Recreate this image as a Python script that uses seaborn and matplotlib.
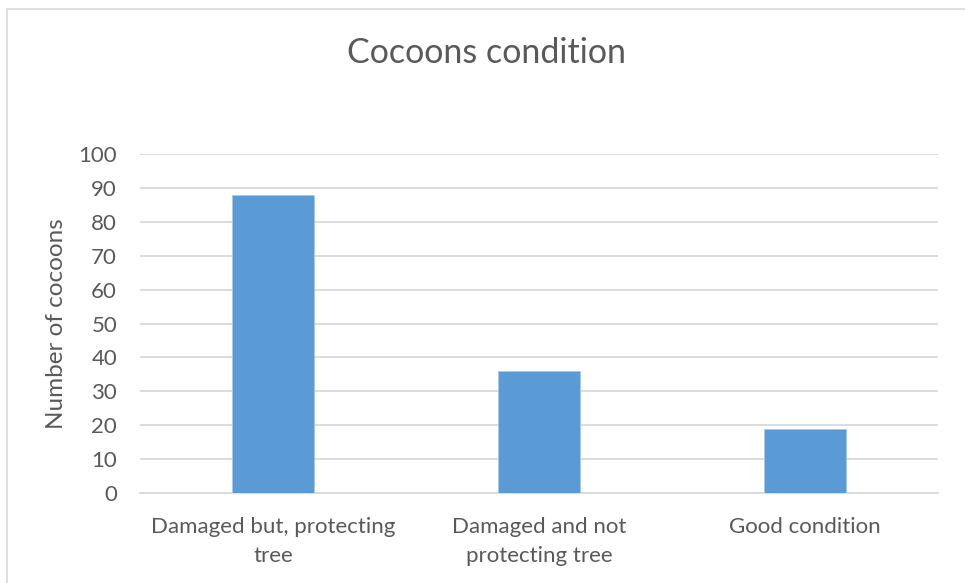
import matplotlib
matplotlib.use("Agg")
import matplotlib.pyplot as plt
import seaborn as sns
import pandas as pd
from matplotlib.patches import Rectangle

categories = ["Damaged but, protecting\ntree", "Damaged and not\nprotecting tree", "Good condition"]
counts = [88, 36, 19]
y_ticks = [0, 10, 20, 30, 40, 50, 60, 70, 80, 90, 100]

title = "Cocoons condition"
y_label = "Number of cocoons"

sns.set_theme(style="white")
plt.rcParams["font.family"] = ["Lato", "DejaVu Sans"]

text_color = "#595959"
grid_color = "#d9d9d9"
bar_color = "#5b9bd5"

W, H = 965, 583
fig = plt.figure(figsize=(W / 100, H / 100), dpi=100)
fig.patch.set_facecolor("white")

# thin chart-area frame (top and left edges visible)
fig.patches.append(Rectangle((7 / W, -0.1), 1.2, (H - 9.5) / H + 0.1,
                             transform=fig.transFigure, fill=False,
                             edgecolor=grid_color, linewidth=1.2))

ax = fig.add_axes([140 / W, (H - 493) / H, (938 - 140) / W, (493 - 154) / H])

df = pd.DataFrame({"condition": categories, "count": counts})
sns.barplot(data=df, x="condition", y="count", ax=ax, color=bar_color,
            width=0.31, saturation=1, edgecolor="#a9c8ea", linewidth=0.6, zorder=3)

ax.set_xlim(-0.5, 2.5)
ax.set_ylim(0, 100)
ax.set_yticks(y_ticks)
ax.yaxis.grid(True, color=grid_color, linewidth=1.3, zorder=0)
ax.set_axisbelow(True)
for side in ["top", "right", "left"]:
    ax.spines[side].set_visible(False)
ax.spines["bottom"].set_color(grid_color)
ax.spines["bottom"].set_linewidth(1.3)

ax.tick_params(axis="y", length=0, pad=16.5, labelsize=16, labelcolor=text_color)
ax.tick_params(axis="x", length=0, pad=17, labelsize=16, labelcolor=text_color)
for lbl in ax.get_xticklabels():
    lbl.set_linespacing(1.6)

ax.set_xlabel("")
ax.set_ylabel(y_label, fontsize=17.5, color=text_color)
ax.yaxis.set_label_coords(-(140 - 67) / (938 - 140), 0.5)

fig.text(486.5 / W, (H - 53) / H, title, ha="center", va="center",
         fontsize=24.5, color=text_color)

fig.savefig("out.png", dpi=100, facecolor="white")
